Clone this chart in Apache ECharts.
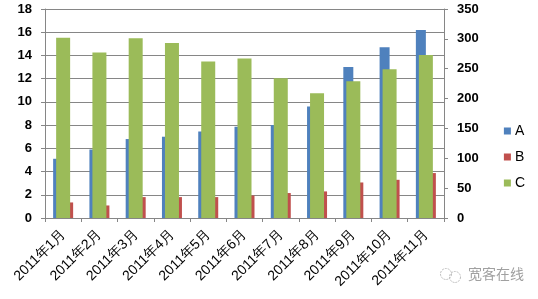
<!DOCTYPE html>
<html><head><meta charset="utf-8">
<script src="https://cdn.jsdelivr.net/npm/echarts@6/dist/echarts.min.js"></script>
<style>html,body{margin:0;padding:0;background:#fff}#c{width:538px;height:299px}</style>
</head><body><div id="c"></div>
<script>
const categories = ['2011年1月','2011年2月','2011年3月','2011年4月','2011年5月','2011年6月','2011年7月','2011年8月','2011年9月','2011年10月','2011年11月'];
const seriesA = [5.1, 5.9, 6.8, 7.0, 7.45, 7.85, 8.0, 9.6, 13.0, 14.7, 16.2];
const seriesB = [1.34, 1.08, 1.8, 1.8, 1.8, 1.94, 2.15, 2.29, 3.06, 3.29, 3.87];
const seriesC = [302, 277, 301, 293, 262, 267, 234, 209, 229, 249, 273];
const leftTicks = {min: 0, max: 18, interval: 2};
const rightTicks = {min: 0, max: 350, interval: 50};

const chart = echarts.init(document.getElementById('c'));
const lbl = {color: '#000', fontFamily: 'Liberation Sans, Arial, sans-serif', fontSize: 13, fontWeight: 'bold'};
chart.setOption({
  animation: false,
  grid: {left: 45, right: 94, top: 9, bottom: 81, containLabel: false},
  legend: {
    orient: 'vertical', right: 8, top: 119, itemWidth: 7, itemHeight: 7, itemGap: 12,
    icon: 'rect', textStyle: {color: '#000', fontFamily: 'Liberation Sans, Arial, sans-serif', fontSize: 14, padding: [0,0,0,-1]},
    data: ['A','B','C']
  },
  xAxis: [
    {type: 'category', data: categories, axisLine: {lineStyle: {color: '#868686'}},
     axisTick: {show: true, length: 4, lineStyle: {color: '#868686'}},
     axisLabel: {rotate: 45, interval: 0, margin: 14, color: '#000', fontFamily: 'Liberation Sans, Arial, sans-serif', fontSize: 14}},
    {type: 'category', data: categories, show: false}
  ],
  yAxis: [
    {type: 'value', min: leftTicks.min, max: leftTicks.max, interval: leftTicks.interval,
     axisLine: {show: true, lineStyle: {color: '#868686'}}, axisTick: {show: true, length: 4, lineStyle: {color: '#868686'}},
     splitLine: {lineStyle: {color: '#868686'}}, axisLabel: Object.assign({margin: 13}, lbl)},
    {type: 'value', min: rightTicks.min, max: rightTicks.max, interval: rightTicks.interval, position: 'right',
     axisLine: {show: true, lineStyle: {color: '#868686'}}, axisTick: {show: true, length: 4, lineStyle: {color: '#868686'}},
     splitLine: {show: false}, axisLabel: Object.assign({margin: 13}, lbl)}
  ],
  series: [
    {name: 'A', type: 'bar', xAxisIndex: 0, yAxisIndex: 0, data: seriesA, barWidth: 10, barGap: '0%', itemStyle: {color: '#4F81BD'}},
    {name: 'B', type: 'bar', xAxisIndex: 0, yAxisIndex: 0, data: seriesB, barWidth: 10, barGap: '0%', itemStyle: {color: '#C0504D'}},
    {name: 'C', type: 'bar', xAxisIndex: 1, yAxisIndex: 1, data: seriesC, barWidth: 14, itemStyle: {color: '#9BBB59'}}
  ],
  graphic: [
    {type: 'circle', shape: {cx: 446, cy: 274, r: 5.5}, style: {fill: 'none', stroke: '#bbb', lineWidth: 1, lineDash: [2, 1]}},
    {type: 'circle', shape: {cx: 455, cy: 277, r: 5.5}, style: {fill: 'none', stroke: '#bbb', lineWidth: 1, lineDash: [2, 1]}},
    {type: 'text', left: 468, top: 267, style: {text: '宽客在线', fill: '#a0a0a0', font: '14px "Noto Sans CJK SC", sans-serif'}}
  ]
});
</script></body></html>
